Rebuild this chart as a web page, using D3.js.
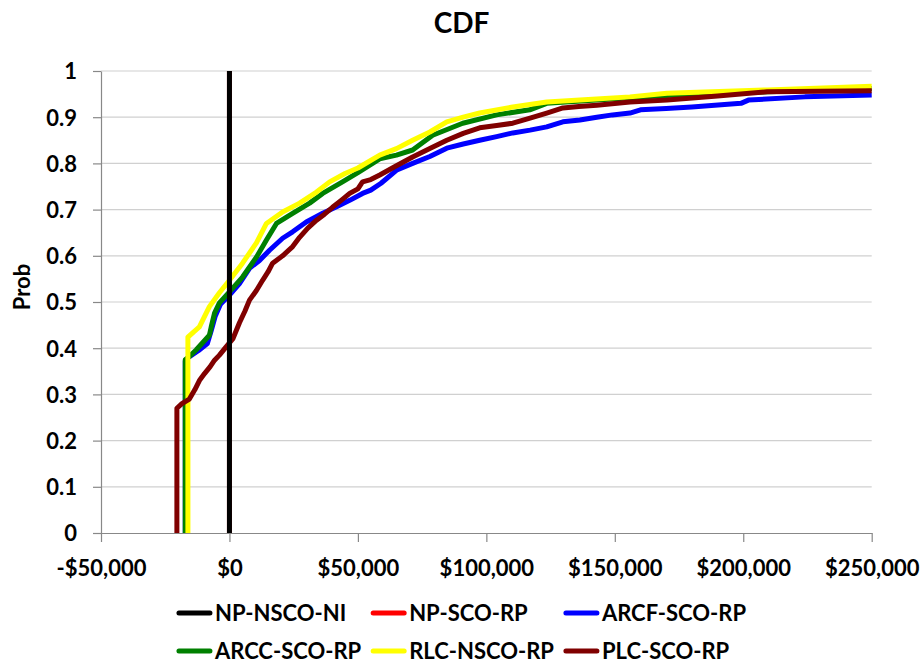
<!DOCTYPE html>
<html><head><meta charset="utf-8">
<script src="https://cdn.jsdelivr.net/npm/d3@7"></script>
<style>
body{margin:0;background:#fff}
svg text{font-family:Lato,'Open Sans',sans-serif;font-weight:bold;fill:#000}
</style>
</head><body>
<svg id="chart" width="923" height="670"></svg>
<script>
// ---- data ----
const seriesNames = ["NP-NSCO-NI","NP-SCO-RP","ARCF-SCO-RP","ARCC-SCO-RP","RLC-NSCO-RP","PLC-SCO-RP"];
const seriesColors = ["#000000","#ff0000","#0000ff","#008000","#ffff00","#800000"];

const npNscoNi = [[0,0],[0,1]];
const npScoRp  = [[0,0],[0,1]];
const arcfScoRp = [[-17200,0],[-17200,0.372],[-16000,0.38],[-12000,0.395],[-8600,0.41],[-7000,0.44],[-5500,0.47],[-3500,0.495],[0,0.515],[3900,0.54],[7800,0.573],[11700,0.59],[15600,0.612],[20700,0.638],[24600,0.652],[29900,0.673],[36300,0.692],[41700,0.706],[46800,0.72],[51800,0.735],[55000,0.742],[59000,0.757],[65200,0.786],[71300,0.8],[78000,0.815],[84600,0.833],[91000,0.842],[97400,0.85],[104000,0.858],[110300,0.866],[117000,0.872],[123500,0.879],[129800,0.89],[136400,0.894],[143000,0.9],[149100,0.905],[155900,0.909],[160000,0.916],[170000,0.919],[180000,0.922],[199100,0.93],[202000,0.937],[224000,0.944],[250000,0.948]];
const arccScoRp = [[-17200,0],[-17200,0.375],[-15600,0.382],[-13000,0.396],[-7800,0.428],[-7100,0.446],[-5800,0.476],[-3900,0.498],[0,0.522],[5100,0.554],[10500,0.597],[14400,0.634],[18300,0.67],[24600,0.692],[31200,0.714],[36300,0.735],[44000,0.76],[50000,0.78],[58500,0.81],[65000,0.818],[71300,0.829],[79100,0.861],[90800,0.887],[104000,0.905],[116900,0.916],[123500,0.93],[140000,0.936],[170000,0.947],[210000,0.955],[250000,0.962]];
const rlcNscoRp = [[-16170,0],[-16170,0.424],[-14000,0.435],[-11700,0.446],[-7800,0.49],[-3900,0.52],[0,0.547],[5100,0.584],[10500,0.628],[14400,0.67],[20700,0.695],[27300,0.714],[33900,0.738],[39000,0.76],[45000,0.778],[50000,0.79],[58500,0.818],[65000,0.832],[71300,0.85],[78000,0.868],[84600,0.89],[91000,0.9],[97400,0.909],[110300,0.922],[123500,0.933],[136400,0.937],[155900,0.944],[170300,0.952],[209300,0.959],[250000,0.967]];
const plcScoRp = [[-20460,0],[-20460,0.27],[-18500,0.28],[-15600,0.29],[-13500,0.31],[-11700,0.33],[-9700,0.345],[-7500,0.36],[-5800,0.374],[-3900,0.385],[-1300,0.403],[1300,0.42],[3900,0.455],[6000,0.48],[7800,0.504],[10500,0.525],[12900,0.547],[15000,0.565],[16800,0.584],[20700,0.6],[24600,0.62],[27300,0.64],[30500,0.66],[33900,0.677],[37000,0.69],[40100,0.705],[43500,0.72],[46800,0.735],[50000,0.745],[51800,0.76],[55000,0.765],[58500,0.775],[65000,0.795],[71300,0.814],[78000,0.832],[84600,0.85],[91000,0.865],[97400,0.877],[104000,0.882],[110300,0.887],[117000,0.898],[123500,0.909],[129800,0.92],[136000,0.923],[143000,0.926],[155900,0.933],[170300,0.937],[190000,0.946],[209300,0.955],[230000,0.956],[250000,0.957]];

const xTicks = [-50000,0,50000,100000,150000,200000,250000];
const xTickLabels = ["-$50,000","$0","$50,000","$100,000","$150,000","$200,000","$250,000"];
const yTicks = [0,0.1,0.2,0.3,0.4,0.5,0.6,0.7,0.8,0.9,1];
const yTickLabels = ["0","0.1","0.2","0.3","0.4","0.5","0.6","0.7","0.8","0.9","1"];
const titleText = "CDF";
const yAxisTitle = "Prob";

// ---- chart ----
const svg = d3.select("#chart");
const W = 923, H = 670;
const mLeft = 101, mRight = 871.7, mTop = 71, mBottom = 533;
const x = d3.scaleLinear().domain([-50000,250000]).range([mLeft,mRight]);
const y = d3.scaleLinear().domain([0,1]).range([mBottom,mTop]);

svg.append("rect").attr("width",W).attr("height",H).attr("fill","#fff");

// gridlines
svg.append("g").selectAll("line").data(yTicks.filter(d=>d>0)).join("line")
  .attr("x1",mLeft).attr("x2",mRight).attr("y1",d=>y(d)).attr("y2",d=>y(d))
  .attr("stroke","#d0d0d0").attr("stroke-width",1.2);

// y axis
const yAxis = svg.append("g").attr("transform",`translate(${mLeft},0)`)
  .call(d3.axisLeft(y).tickValues(yTicks).tickFormat((d,i)=>yTickLabels[i]).tickSize(8).tickSizeOuter(0).tickPadding(16));
yAxis.select(".domain").attr("stroke","#888").attr("stroke-width",1.2);
yAxis.selectAll(".tick line").attr("stroke","#888").attr("stroke-width",1.2);
yAxis.selectAll(".tick text").attr("font-size",22).attr("font-family","Lato").attr("font-weight","bold").attr("fill","#000").attr("dy","0.36em");

// x axis
const xAxis = svg.append("g").attr("transform",`translate(0,${mBottom})`)
  .call(d3.axisBottom(x).tickValues(xTicks).tickFormat((d,i)=>xTickLabels[i]).tickSize(9).tickSizeOuter(0));
xAxis.select(".domain").attr("stroke","#888").attr("stroke-width",1.2);
xAxis.selectAll(".tick line").attr("stroke","#888").attr("stroke-width",1.2);
xAxis.selectAll(".tick text").attr("font-size",22).attr("font-family","Lato").attr("font-weight","bold").attr("fill","#000").attr("y",43).attr("dy","0");

// lines
const line = d3.line().x(d=>x(d[0])).y(d=>y(d[1]));
const drawOrder = [
  [npScoRp,1],[arcfScoRp,2],[arccScoRp,3],[rlcNscoRp,4],[plcScoRp,5],[npNscoNi,0]
];
const lg = svg.append("g");
drawOrder.forEach(([data,i])=>{
  lg.append("path").datum(data).attr("d",line).attr("fill","none")
    .attr("stroke",seriesColors[i]).attr("stroke-width",5)
    .attr("stroke-linejoin","round").attr("stroke-linecap","butt");
});

// title
svg.append("text").attr("x",W/2).attr("y",33).attr("text-anchor","middle")
  .attr("font-size",28).text(titleText);

// y axis title
svg.append("text").attr("transform","translate(30,287) rotate(-90)")
  .attr("text-anchor","middle").attr("font-size",22).text(yAxisTitle);

// legend
const legendRows = [[0,1,2],[3,4,5]];
const rowY = [613,651];
const sampleLen = 35, sampleGap = 3, colGap = 10;
const leg = svg.append("g");
const tmp = leg.append("text").attr("font-size",22);
const widths = seriesNames.map(n=>{tmp.text(n);return tmp.node().getComputedTextLength();});
tmp.remove();
const colW = [0,1,2].map(c=>Math.max(...legendRows.map(r=>widths[r[c]])) + sampleLen + sampleGap);
const totalW = colW[0]+colW[1]+colW[2]+2*colGap;
const startX = W/2 - totalW/2;
legendRows.forEach((row,ri)=>{
  let cx = startX;
  row.forEach((si,ci)=>{
    leg.append("line").attr("x1",cx+2).attr("x2",cx+sampleLen-2)
      .attr("y1",rowY[ri]).attr("y2",rowY[ri])
      .attr("stroke",seriesColors[si]).attr("stroke-width",5).attr("stroke-linecap","round");
    leg.append("text").attr("x",cx+sampleLen+sampleGap).attr("y",rowY[ri]).attr("dy","0.36em")
      .attr("font-size",22).text(seriesNames[si]);
    cx += colW[ci] + colGap;
  });
});
</script>
</body></html>
